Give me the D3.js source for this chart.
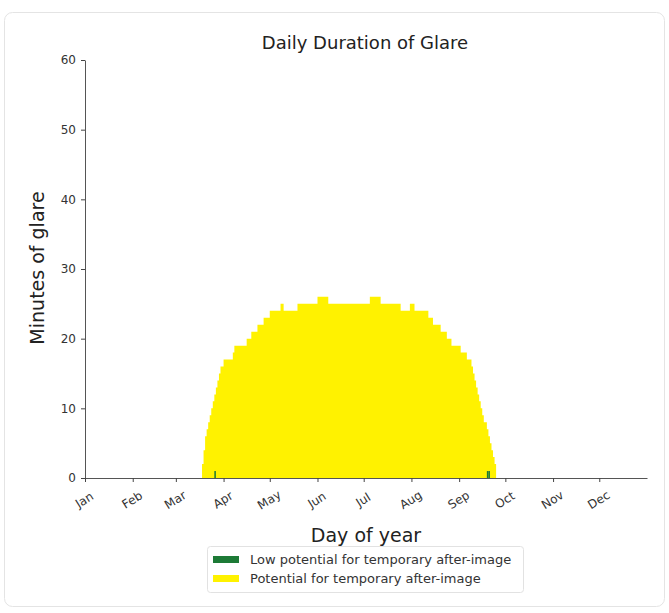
<!DOCTYPE html>
<html><head><meta charset="utf-8">
<script src="https://cdn.jsdelivr.net/npm/d3@7"></script>
<style>body{margin:0;background:#fff}</style>
</head><body>
<svg id="chart" width="669" height="613"></svg>
<script>
const monthLabels = ["Jan","Feb","Mar","Apr","May","Jun","Jul","Aug","Sep","Oct","Nov","Dec"];
const monthStartDays = [0,31,59,90,120,151,181,212,243,273,304,334];
const yTickValues = [0,10,20,30,40,50,60];
const potentialStartDay = 76;
const potentialMinutes = [
  2,4,6,7,8,9,10,11,12,13,14,15,16,16,
  17,17,17,17,17,17,
  18,
  19,19,19,19,19,19,19,19,
  20,20,20,
  21,21,21,21,
  22,22,22,22,
  23,23,23,23,
  24,24,24,24,24,24,24,
  25,25,
  24,24,24,24,24,24,24,24,24,
  25,25,25,25,25,25,25,25,25,25,25,25,25,
  26,26,26,26,26,26,26,
  25,25,25,25,25,25,25,25,25,25,25,25,25,25,25,25,25,25,25,25,25,25,25,25,25,25,25,
  26,26,26,26,26,26,26,
  25,25,25,25,25,25,25,25,25,25,25,25,25,
  24,24,24,24,24,24,
  25,25,25,
  24,24,24,24,24,24,24,24,24,
  23,23,23,
  22,22,22,22,22,
  21,21,21,21,
  20,20,20,
  19,19,19,19,19,19,
  18,18,18,18,
  17,17,17,
  16,15,14,13,12,11,10,9,8,8,7,6,5,4,3,2
];
const lowPotentialDays = [84, 261, 262];
const lowPotentialMinutes = [1, 1, 1];
const seriesNames = ["Low potential for temporary after-image", "Potential for temporary after-image"];
const seriesColors = ["#1d7a36", "#fff200"];

const svg = d3.select("#chart");
const x = d3.scaleLinear().domain([0, 365]).range([85, 647]);
const y = d3.scaleLinear().domain([0, 60]).range([478, 60]);

svg.append("rect").attr("x", 4.5).attr("y", 12.5).attr("width", 660).attr("height", 594)
  .attr("rx", 8).attr("fill", "#fff").attr("stroke", "#e4e4e4");

// Potential series
const pts = potentialMinutes.map((v, i) => ({d: potentialStartDay + i, v}));
pts.push({d: potentialStartDay + potentialMinutes.length, v: 0});
svg.append("path").datum(pts)
  .attr("fill", seriesColors[1])
  .attr("d", d3.area().curve(d3.curveStepAfter).x(p => x(p.d)).y0(y(0)).y1(p => y(p.v)));

// Low potential series
svg.selectAll("rect.low").data(lowPotentialDays).join("rect").attr("class", "low")
  .attr("x", d => x(d)).attr("width", d => x(d + 1) - x(d))
  .attr("y", (d, i) => y(lowPotentialMinutes[i])).attr("height", (d, i) => y(0) - y(lowPotentialMinutes[i]))
  .attr("fill", seriesColors[0]);

// Axes
const yAxis = svg.append("g").attr("transform", `translate(${x(0)},0)`)
  .call(d3.axisLeft(y).tickValues(yTickValues).tickSize(4).tickSizeOuter(0).tickPadding(5));
const xAxis = svg.append("g").attr("transform", `translate(0,${y(0)})`)
  .call(d3.axisBottom(x).tickValues(monthStartDays).tickFormat((d, i) => monthLabels[i]).tickSize(4).tickSizeOuter(0));
[yAxis, xAxis].forEach(g => {
  g.selectAll("path.domain").attr("stroke", "#555");
  g.selectAll(".tick line").attr("stroke", "#444");
  g.selectAll(".tick text").attr("fill", "#333").style("font-family", "DejaVu Sans").style("font-size", "12px");
});
xAxis.selectAll(".tick text")
  .attr("y", 0).attr("dy", 0)
  .attr("text-anchor", "middle").attr("dominant-baseline", "central")
  .attr("transform", "translate(-1,22) rotate(-32)");

// Title and axis labels
svg.append("text").attr("x", 365).attr("y", 42).attr("text-anchor", "middle").attr("dominant-baseline", "central")
  .style("font-family", "DejaVu Sans").style("font-size", "18px").attr("fill", "#222").text("Daily Duration of Glare");
svg.append("text").attr("transform", "translate(37,268) rotate(-90)").attr("text-anchor", "middle").attr("dominant-baseline", "central")
  .style("font-family", "DejaVu Sans").style("font-size", "19px").attr("fill", "#222").text("Minutes of glare");
svg.append("text").attr("x", 366).attr("y", 535).attr("text-anchor", "middle").attr("dominant-baseline", "central")
  .style("font-family", "DejaVu Sans").style("font-size", "19px").attr("fill", "#222").text("Day of year");

// Legend
const lg = svg.append("g");
lg.append("rect").attr("x", 207.5).attr("y", 546.5).attr("width", 316).attr("height", 46).attr("rx", 3)
  .attr("fill", "#fff").attr("stroke", "#e2e2e2");
seriesNames.forEach((name, i) => {
  const cy = 559 + i * 19;
  lg.append("rect").attr("x", 213).attr("y", cy - 3).attr("width", 26).attr("height", 7).attr("fill", seriesColors[i]);
  lg.append("text").attr("x", 250).attr("y", cy).attr("dominant-baseline", "central")
    .style("font-family", "DejaVu Sans").style("font-size", "13px").attr("fill", "#333").text(name);
});
</script>
</body></html>
